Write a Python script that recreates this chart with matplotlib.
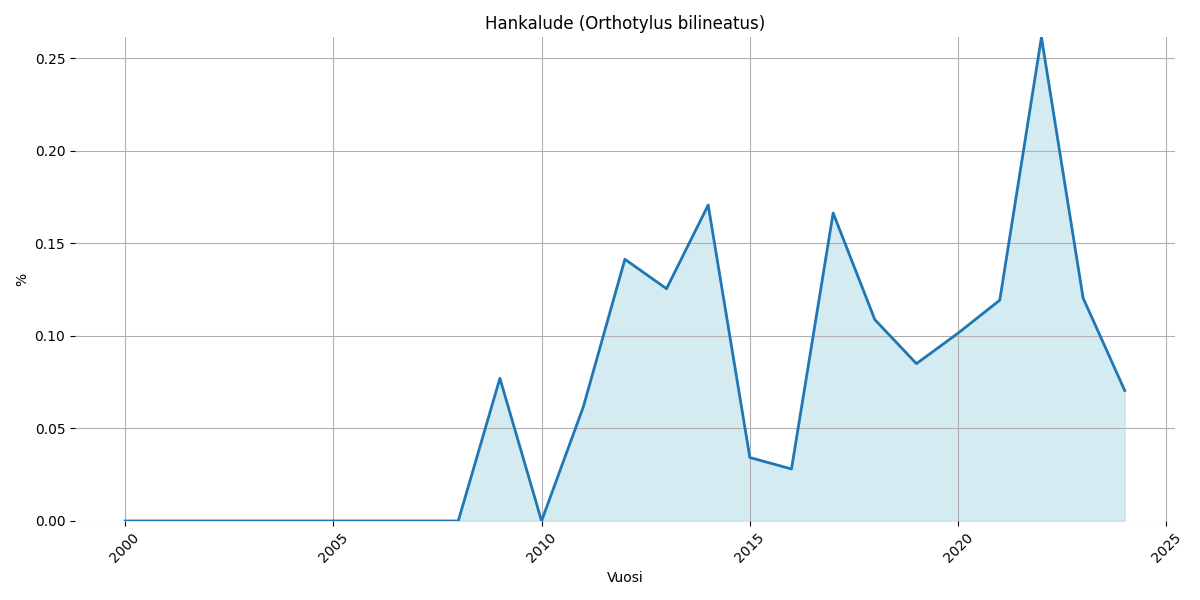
import matplotlib

matplotlib.use("Agg")

import matplotlib.pyplot as plt  # noqa: E402

YEARS = list(range(2000, 2025))
PERCENT = [0.0, 0.0, 0.0, 0.0, 0.0, 0.0, 0.0, 0.0, 0.0,
           0.0771, 0.0, 0.0615, 0.1414, 0.1255, 0.1707,
           0.0343, 0.0281, 0.1664, 0.1088, 0.0850, 0.1015,
           0.1193, 0.2613, 0.1205, 0.0705]

TITLE = "Hankalude (Orthotylus bilineatus)"


def main():
    fig, ax = plt.subplots(figsize=(12, 6), dpi=100)
    ax.fill_between(YEARS, PERCENT, color="lightblue", alpha=0.5)
    ax.plot(YEARS, PERCENT, color="#1f77b4", lw=2)
    ax.set_ylim(0, max(PERCENT))
    ax.set_title(TITLE)
    ax.set_xlabel("Vuosi")
    ax.set_ylabel("%")
    ax.grid(True, color="#b0b0b0")
    for s in ax.spines.values():
        s.set_visible(False)
    plt.setp(ax.get_xticklabels(), rotation=45)
    fig.tight_layout()
    fig.savefig("out.png")
    plt.close(fig)


if __name__ == "__main__":
    main()
